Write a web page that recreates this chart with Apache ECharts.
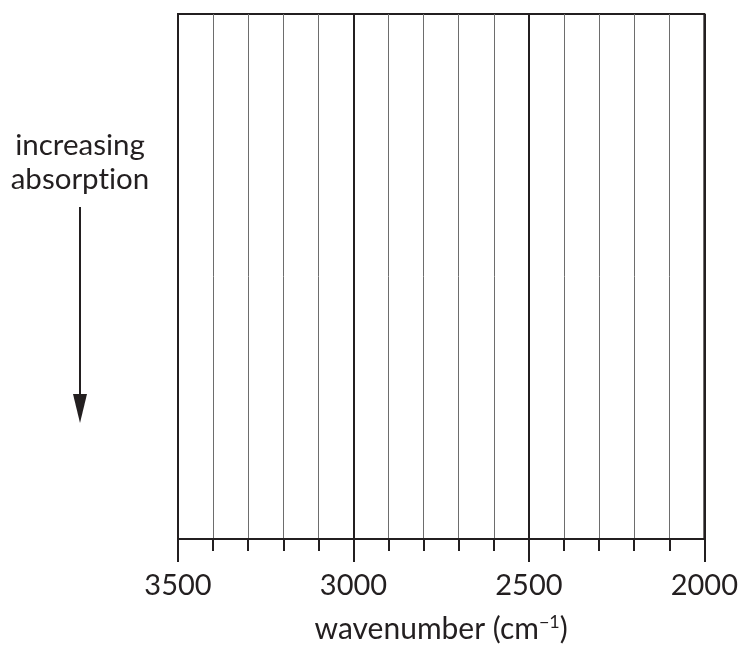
<!DOCTYPE html>
<html>
<head>
<meta charset="utf-8">
<script src="https://cdn.jsdelivr.net/npm/echarts@6/dist/echarts.min.js"></script>
<style>
  html, body { margin: 0; padding: 0; background: #fff; }
  #chart { width: 741px; height: 649px; }
</style>
</head>
<body>
<div id="chart"></div>
<script>
// wavenumber range and tick steps
const xMin = 2000;
const xMax = 3500;
const minorStep = 100;
const majorStep = 500;
const majorLabels = [3500, 3000, 2500, 2000];
// blank spectrum: no data drawn
const spectrum = [];

const FONT = 'Lato, "Open Sans", sans-serif';
const INK = '#231f20';

const chart = echarts.init(document.getElementById('chart'));

chart.setOption({
  animation: false,
  backgroundColor: '#fff',
  grid: {
    left: 178, right: 36, top: 14, bottom: 109,
    show: true, borderColor: INK, borderWidth: 2, backgroundColor: 'transparent'
  },
  xAxis: [
    {
      type: 'value', inverse: true, min: xMin, max: xMax, interval: minorStep,
      axisLine: { show: true, lineStyle: { color: INK, width: 2 } },
      axisTick: { show: true, length: 12, lineStyle: { color: INK, width: 2 } },
      axisLabel: { show: false },
      splitLine: { show: true, lineStyle: { color: '#6d6d6d', width: 1 } },
      name: '{t|wavenumber (cm}{s|\u22121}{t|)}',
      nameLocation: 'middle', nameGap: 74,
      nameTextStyle: {
        rich: {
          t: { fontFamily: FONT, fontSize: 30, color: INK },
          s: { fontFamily: FONT, fontSize: 18, color: INK, verticalAlign: 'top', padding: [0, 0, 14, 0] }
        }
      }
    },
    {
      type: 'value', inverse: true, min: xMin, max: xMax, interval: majorStep,
      position: 'bottom',
      axisLine: { show: false },
      axisTick: { show: true, length: 23, lineStyle: { color: INK, width: 2 } },
      axisLabel: {
        show: true, margin: 32, fontFamily: FONT, fontSize: 29, color: INK,
        formatter: v => majorLabels.includes(v) ? String(v) : ''
      },
      splitLine: { show: true, lineStyle: { color: INK, width: 2 } }
    }
  ],
  yAxis: { type: 'value', min: 0, max: 1, show: false },
  series: [{ type: 'line', xAxisIndex: 0, data: spectrum, silent: true }],
  graphic: [
    {
      type: 'text', x: 80, y: 128,
      style: {
        text: 'increasing\nabsorpt\u200Cion', fontFamily: FONT, fontSize: 29.5,
        lineHeight: 34, fill: INK,
        align: 'center', verticalAlign: 'top',
        textAlign: 'center', textVerticalAlign: 'top'
      }
    },
    {
      type: 'line',
      shape: { x1: 80, y1: 207, x2: 80, y2: 398 },
      style: { stroke: INK, lineWidth: 2 }
    },
    {
      type: 'polygon',
      shape: { points: [[73, 394], [87, 394], [80, 423]] },
      style: { fill: INK }
    }
  ]
});
</script>
</body>
</html>
